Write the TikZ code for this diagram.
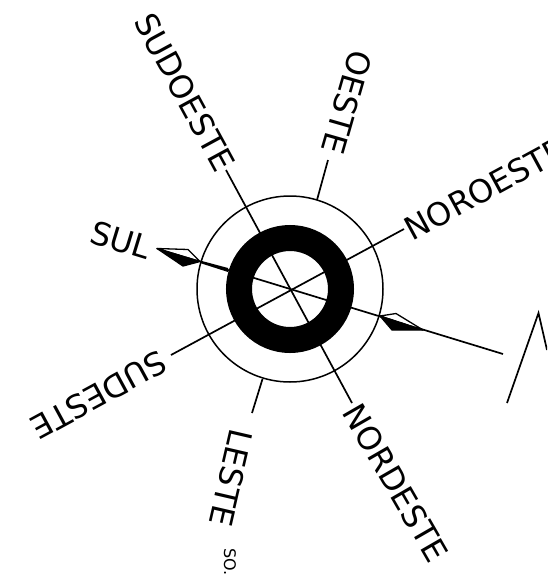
\documentclass[tikz,border=0pt]{standalone}
\usepackage{fontspec}
\setmainfont{DejaVu Sans}
\usepackage{xcolor}
\usepackage{tikz}
\usetikzlibrary{calc}
\tikzset{
  lbl/.style={font=\fontsize{32}{36}\selectfont, inner sep=0pt, text=black},
  smalllbl/.style={font=\fontsize{16}{20}\selectfont, inner sep=0pt, text=black},
  spoke/.style={draw=black, line width=1.7pt},
  hoop/.style={draw=black, line width=1.5pt},
  band/.style={draw=black, line width=26pt},
  vane/.style={draw=black, line width=1.3pt, fill=white, line join=round},
  vanedark/.style={draw=black, line width=1.3pt, fill=black, line join=round}
}
\begin{document}
\begin{tikzpicture}[x=1pt,y=-1pt]
\useasboundingbox (0,0) rectangle (547,576);
\clip (0,0) rectangle (547,576);
\coordinate (mid) at (290,289);
% rings
\draw[hoop] (mid) circle[radius=93];
\draw[band] (mid) circle[radius=51];
% labels
\node[lbl, rotate=-61.5] (sudoeste) at (185,92) {SUDOESTE};
\node[lbl, rotate=-106] (oeste) at (347,102) {OESTE};
\node[lbl, rotate=28.5] (noroeste) at (485,189) {NOROESTE};
\node[lbl, rotate=-17] (sul) at (121,240) {SUL};
\node[lbl, rotate=-151.5] (sudeste) at (99,395) {SUDESTE};
\node[lbl, rotate=-103] (leste) at (231,478) {LESTE};
\node[lbl, rotate=-60] (nordeste) at (396,483) {NORDESTE};
\node[smalllbl, rotate=-90, anchor=west] (so) at (230,548) {SO.};
% spokes
\coordinate (nwend) at (226,170);
\coordinate (seend) at (352,403);
\coordinate (neend) at (404,229);
\coordinate (swend) at (171,355);
\coordinate (tailend) at (503,354);
\coordinate (topin) at (317,200);
\coordinate (topout) at (328,160);
\coordinate (botin) at (262.5,379);
\coordinate (botout) at (252,413);
\draw[spoke] (nwend) -- (seend);
\draw[spoke] (neend) -- (swend);
\draw[spoke] (topin) -- (topout);
\draw[spoke] (botin) -- (botout);
\draw[spoke] (228,270) -- (tailend);
\fill (200,260.5) -- (228,268) -- (228,272) -- (200,263) -- cycle;
% vanes
\draw[vane] (157,248.5) -- (188,249.5) -- (200,261.5) -- cycle;
\draw[vanedark] (157,248.5) -- (200,261.5) -- (183,266) -- cycle;
\draw[vane] (380,316) -- (396,313.5) -- (423,330) -- cycle;
\draw[vanedark] (380,316) -- (423,330) -- (392,330) -- cycle;
% peak at the edge
\coordinate (peaka) at (507,403);
\coordinate (peakb) at (538.5,313);
\coordinate (peakc) at (547,350);
\draw[spoke] (peaka) -- (peakb) -- (peakc);
\end{tikzpicture}
\end{document}
